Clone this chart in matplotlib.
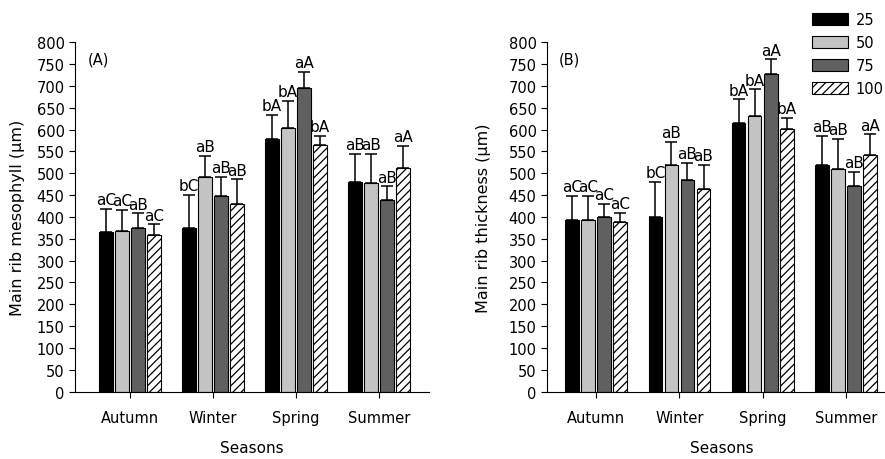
import matplotlib
matplotlib.use("Agg")
import matplotlib.pyplot as plt
import numpy as np

plt.rcParams['font.family'] = ['DejaVu Sans']
plt.rcParams['hatch.linewidth'] = 0.9

seasons = ["Autumn", "Winter", "Spring", "Summer"]
treatments = ["25", "50", "75", "100"]

# panel A: main rib mesophyll, means and upper error per treatment (rows) x season (cols)
meso_mean = [
    [366, 374, 578, 481],
    [367, 491, 604, 478],
    [375, 449, 696, 439],
    [358, 430, 564, 512],
]
meso_err = [
    [53, 77, 55, 64],
    [49, 49, 62, 67],
    [33, 42, 36, 31],
    [25, 56, 21, 50],
]
meso_letters = [
    ["aC", "bC", "bA", "aB"],
    ["aC", "aB", "bA", "aB"],
    ["aB", "aB", "aA", "aB"],
    ["aC", "aB", "bA", "aA"],
]

# panel B: main rib thickness
thick_mean = [
    [394, 400, 615, 518],
    [394, 520, 631, 509],
    [401, 484, 728, 472],
    [388, 465, 602, 541],
]
thick_err = [
    [54, 81, 54, 67],
    [54, 52, 61, 69],
    [29, 40, 33, 32],
    [22, 55, 25, 48],
]
thick_letters = [
    ["aC", "bC", "bA", "aB"],
    ["aC", "aB", "bA", "aB"],
    ["aC", "aB", "aA", "aB"],
    ["aC", "aB", "bA", "aA"],
]

colors = ["black", "#c4c4c4", "#606060", "white"]
hatches = [None, None, None, "////"]
pitch = 0.193
width = 0.163


def draw_panel(ax, means, errs, letters, ylabel, tag, xmin):
    x = np.arange(len(seasons))
    for i in range(len(treatments)):
        pos = x + (i - 1.5) * pitch
        m = np.array(means[i])
        e = np.array(errs[i])
        ax.bar(pos, m, width, color=colors[i], edgecolor="black", linewidth=0.8,
               hatch=hatches[i], label=treatments[i], zorder=2)
        ax.errorbar(pos, m, yerr=[np.zeros_like(e), e], fmt="none", ecolor="black",
                    elinewidth=1.1, capsize=4.5, capthick=1.1, zorder=3)
        for px, top, lab in zip(pos, m + e, letters[i]):
            ax.text(px, top + 4, lab, ha="center", va="bottom", fontsize=11)

    ax.set_xlim(xmin, 3.6)
    ax.set_ylim(0, 800)
    ax.set_yticks(range(0, 801, 50))
    ax.set_xticks(x)
    ax.set_xticklabels(seasons)
    ax.tick_params(axis="both", labelsize=10.5, direction="out", length=4, width=0.8)
    ax.tick_params(axis="x", pad=9)
    for side in ["top", "right"]:
        ax.spines[side].set_visible(False)
    for side in ["left", "bottom"]:
        ax.spines[side].set_linewidth(0.8)
    ax.set_ylabel(ylabel, fontsize=11.5)
    ax.set_xlabel("Seasons", fontsize=11, labelpad=11)
    ax.text(0.035, 0.975, tag, transform=ax.transAxes, ha="left", va="top", fontsize=10.5)


fig = plt.figure(figsize=(8.85, 4.6), dpi=100)
ax1 = fig.add_axes([75 / 885, 1 - 392.6 / 460, 354 / 885, 349.3 / 460])
ax2 = fig.add_axes([547 / 885, 1 - 392.6 / 460, 349 / 885, 349.3 / 460])

draw_panel(ax1, meso_mean, meso_err, meso_letters, "Main rib mesophyll (\u00b5m)", "(A)", -0.66)
draw_panel(ax2, thick_mean, thick_err, thick_letters, "Main rib thickness (\u00b5m)", "(B)", -0.59)

ax1.yaxis.set_label_coords(-0.142, 0.5)
ax2.yaxis.set_label_coords(-0.16, 0.5)

ax2.legend(loc="upper left", bbox_to_anchor=(812 / 885, 1 - 13 / 460),
           bbox_transform=fig.transFigure, frameon=False, fontsize=10.5,
           handlelength=2.5, handleheight=0.9, labelspacing=0.55,
           handletextpad=0.5, borderpad=0, borderaxespad=0)

fig.savefig("out.png", dpi=100)
